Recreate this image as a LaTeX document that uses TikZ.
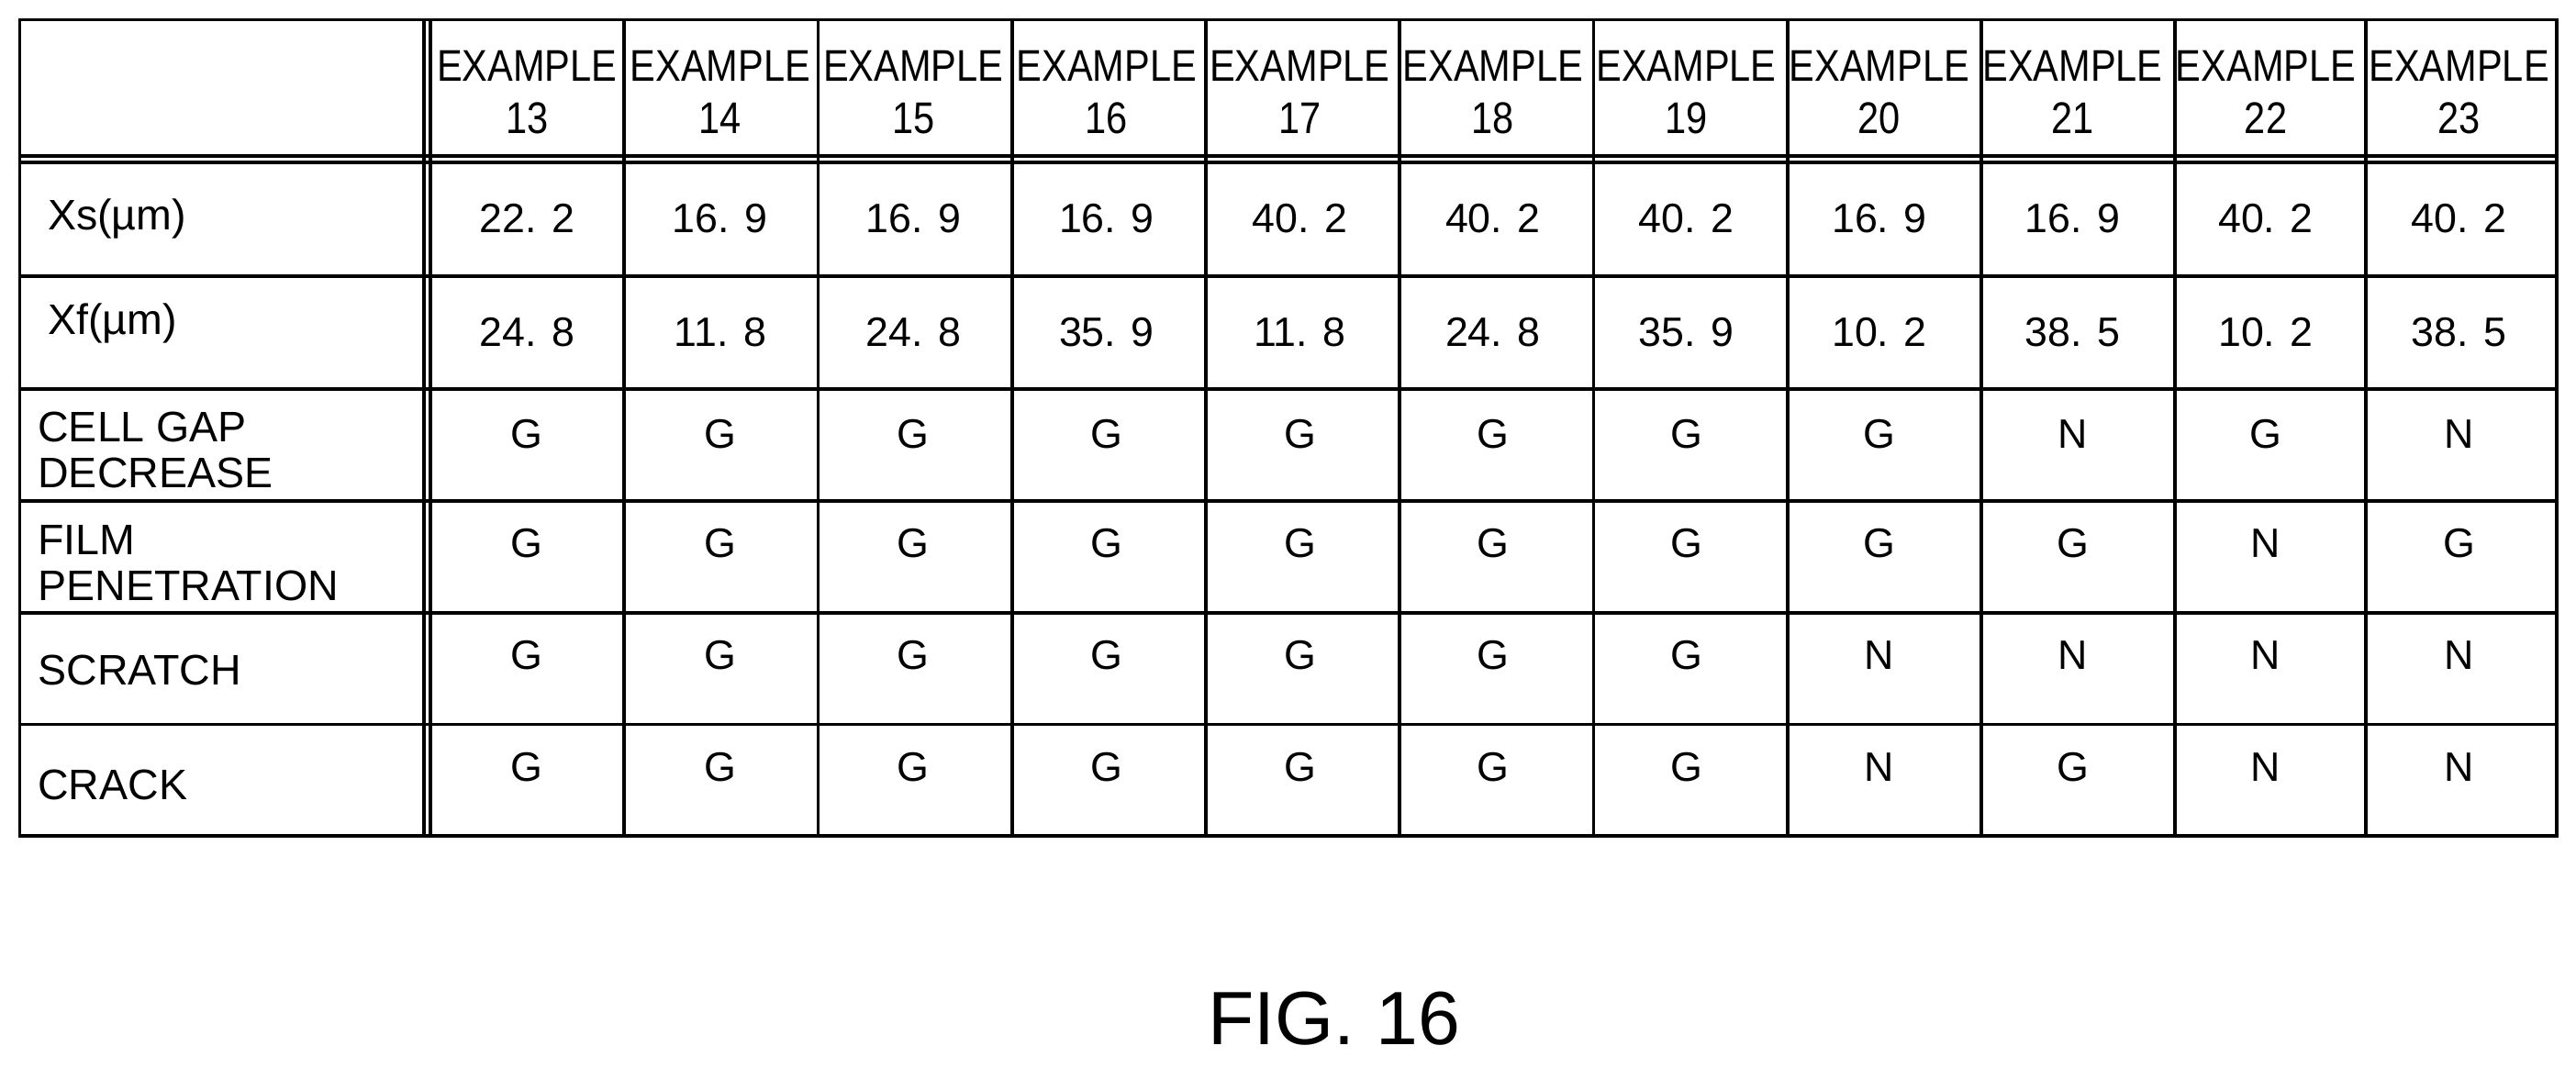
\documentclass[tikz,border=0pt]{standalone}
\usepackage{fontspec}
\setmainfont{Liberation Sans}
\begin{document}
\begin{tikzpicture}[x=0.5pt,y=-0.5pt,line width=1.1pt,
  hd/.style={font=\fontsize{13.5}{15}\selectfont,align=center,inner sep=0pt,xscale=0.86},
  val/.style={font=\fontsize{12.5}{14}\selectfont,inner sep=0pt},
  lab/.style={font=\fontsize{13}{14}\selectfont,align=left,anchor=west,inner sep=0pt}]
\useasboundingbox (0,0) rectangle (1568,650);
\draw (12,12) rectangle (1556,509);
\draw (258,12) -- (258,509); \draw (262,12) -- (262,509);
\draw (12,95) -- (1556,95); \draw (12,99) -- (1556,99);
\foreach \x in {380,498,616,734,852,970,1088,1206,1324,1440} \draw (\x,12) -- (\x,509);
\foreach \y in {168,237,305,373,441} \draw (12,\y) -- (1556,\y);
\foreach \n [count=\i] in {13,...,23} {
  \pgfmathsetmacro\cx{262+(\i-0.5)*117.6}
  \node[hd] (h\i) at (\cx,56) {EXAMPLE\\[1pt]\n};
}
\foreach \row/\yy/\vals in {xs/133/{22. 2,16. 9,16. 9,16. 9,40. 2,40. 2,40. 2,16. 9,16. 9,40. 2,40. 2},
  xf/202/{24. 8,11. 8,24. 8,35. 9,11. 8,24. 8,35. 9,10. 2,38. 5,10. 2,38. 5},
  cg/264/{G,G,G,G,G,G,G,G,N,G,N},
  fp/331/{G,G,G,G,G,G,G,G,G,N,G},
  sc/399/{G,G,G,G,G,G,G,N,N,N,N},
  cr/467/{G,G,G,G,G,G,G,N,G,N,N}} {
  \foreach \v [count=\i] in \vals {
    \pgfmathsetmacro\cx{262+(\i-0.5)*117.6}
    \node[val] (\row\i) at (\cx,\yy) {\v};
  }
}
\node[lab] (l1) at (28,133) {Xs(µm)};
\node[lab] (l2) at (28,197) {Xf(µm)};
\node[lab] (l3) at (22,274) {CELL GAP\\DECREASE};
\node[lab] (l4) at (22,343) {FILM\\PENETRATION};
\node[lab] (l5) at (22,408) {SCRATCH};
\node[lab] (l6) at (22,478) {CRACK};
\node[font=\fontsize{23}{25}\selectfont,inner sep=0pt] (cap) at (812,620) {FIG. 16};
\end{tikzpicture}
\end{document}
